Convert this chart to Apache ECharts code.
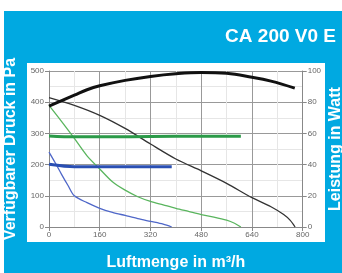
<!DOCTYPE html>
<html><head><meta charset="utf-8">
<script src="https://cdn.jsdelivr.net/npm/echarts@6/dist/echarts.min.js"></script>
<style>html,body{margin:0;padding:0;background:#fff}#c{width:342px;height:273px}</style>
</head><body><div id="c"></div>
<script>
// Pressure curves (left axis, Pa) vs airflow (m³/h)
const blackPressure = [[0,415],[80,390],[160,358],[240,316],[320,266],[400,218],[480,180],[560,140],[640,94],[700,65],[740,40],[760,22],[776,0]];
const greenPressure = [[0,390],[40,338],[80,284],[120,228],[160,186],[200,145],[240,118],[280,97],[320,82],[360,71],[400,60],[440,50],[480,40],[520,32],[560,22],[585,12],[605,0]];
const bluePressure = [[0,240],[20,205],[40,168],[60,133],[80,100],[120,78],[160,60],[200,47],[240,37],[280,27],[320,18],[360,9],[387,0]];
// Power curves (right axis, W)
const blackPower = [[0,77.5],[40,81],[80,84.5],[120,88],[160,90.5],[240,94],[320,96.5],[400,98.2],[480,99],[560,98.5],[640,96],[700,93.5],[775,89]];
const greenPower = [[0,58.4],[80,57.8],[200,57.8],[320,58],[480,58.2],[605,58.2]];
const bluePower = [[0,40.2],[80,38.6],[200,38.6],[387,38.6]];
const xTicks = [0,160,320,480,640,800];
const title = "CA 200 V0 E";

const chart = echarts.init(document.getElementById('c'), null, {renderer:'canvas'});
const lbl = {color:'#666', fontSize:8, fontFamily:'Liberation Sans'};
const nameStyle = {color:'#fff', fontWeight:'bold', fontSize:16, fontFamily:'Liberation Sans'};
function line(data, color, width, yIdx, smooth){
  return {type:'line', data:data, yAxisIndex:yIdx, showSymbol:false, smooth:smooth,
    lineStyle:{color:color, width:width}, z: width>2?4:3};
}
chart.setOption({
  animation:false,
  backgroundColor:'#fff',
  graphic:[
    {type:'rect', shape:{x:4,y:11,width:338,height:262}, style:{fill:'#00a9e1'}, z:-10, silent:true},
    {type:'rect', shape:{x:27,y:63,width:298,height:179}, style:{fill:'#fff'}, z:-9, silent:true},
    {type:'text', right:6, top:27, style:{text:title, fill:'#fff', font:'bold 19px "Liberation Sans"'}, z:10}
  ],
  grid:{left:49, right:39.3, top:71, bottom:46, containLabel:false, outerBoundsMode:'none'},
  xAxis:{type:'value', min:0, max:800, interval:160,
    name:'Luftmenge in m³/h', nameLocation:'middle', nameGap:28, nameMoveOverlap:false, nameTextStyle:nameStyle,
    axisLine:{show:true, lineStyle:{color:'#888'}}, axisTick:{show:true, length:4, lineStyle:{color:'#888'}},
    axisLabel:Object.assign({margin:4}, lbl),
    splitLine:{show:true, lineStyle:{color:'#999', width:1}},
    minorTick:{show:false, splitNumber:2},
    minorSplitLine:{show:true, lineStyle:{color:'#e6e6e6', width:1}}},
  yAxis:[
    {type:'value', min:0, max:500, interval:100,
      name:'Verfügbarer Druck in Pa', nameLocation:'middle', nameGap:30, nameMoveOverlap:false, nameTextStyle:nameStyle,
      axisLine:{show:true, lineStyle:{color:'#888'}}, axisTick:{show:true, length:4, lineStyle:{color:'#888'}},
      axisLabel:Object.assign({margin:5}, lbl),
      splitLine:{show:true, lineStyle:{color:'#999', width:1}},
      minorTick:{show:false, splitNumber:2},
      minorSplitLine:{show:true, lineStyle:{color:'#e6e6e6', width:1}}},
    {type:'value', min:0, max:100, interval:20, position:'right',
      name:'Leistung in Watt', nameLocation:'middle', nameGap:25, nameMoveOverlap:false, nameTextStyle:nameStyle,
      axisLine:{show:true, lineStyle:{color:'#888'}}, axisTick:{show:true, length:4, lineStyle:{color:'#888'}},
      axisLabel:Object.assign({margin:5}, lbl),
      splitLine:{show:false}}
  ],
  series:[
    line(blackPressure,'#333',1.3,0,0.3),
    line(greenPressure,'#5ab55e',1.3,0,0.3),
    line(bluePressure,'#4f67c8',1.3,0,0.3),
    line(blackPower,'#111',3,1,0.4),
    line(greenPower,'#2b9a48',3,1,0.3),
    line(bluePower,'#2a4fb3',3,1,0.3)
  ]
});
</script></body></html>
